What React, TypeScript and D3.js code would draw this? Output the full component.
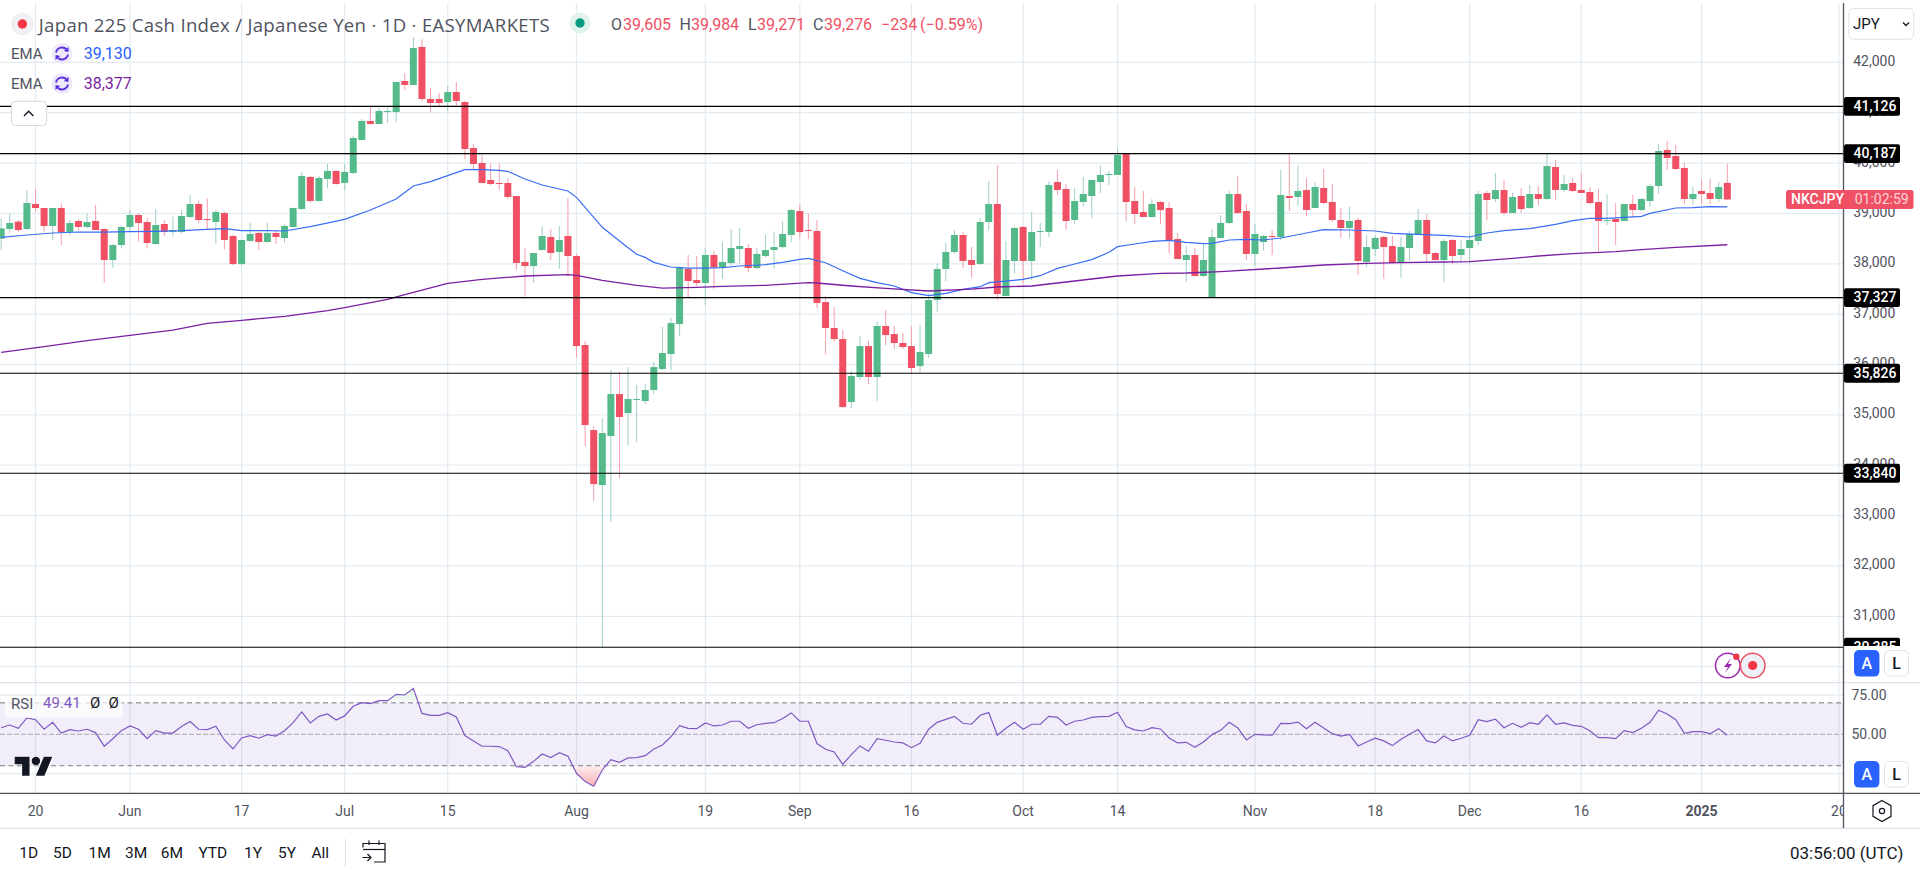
import React from "react";
import * as d3 from "d3";

const opens = [
38498,38690,38836,38690,39187,39107,38750,39107,38624,38849,
38730,38849,38690,38074,38372,38730,38968,38829,38392,38789,
38630,38630,38928,39187,38889,38829,39008,38551,37995,38452,
38611,38432,38611,38511,38730,39087,39723,39246,39683,39842,
39604,39802,40458,40835,40775,41020,41014,41629,41550,42305,
41272,41272,41212,41411,41212,40299,40001,39663,39604,39604,
39345,38035,37955,38273,38531,38233,38551,38154,36386,34698,
33606,34579,35413,35036,35301,35274,35493,35910,36208,36803,
37896,37677,37618,38174,37929,38015,38293,38313,37915,38154,
38273,38332,38571,39047,38670,38650,37240,36724,36505,35254,
35751,36366,35751,36764,36605,36426,36366,35969,36208,37280,
37896,38233,38571,38074,37995,38829,39187,37359,38055,38730,
38055,38630,38630,39623,39484,38869,39226,39345,39623,39763,
39763,40180,39246,39028,38928,39226,39107,38491,38074,38174,
37757,37340,38511,38809,39385,39047,38194,38432,38551,38531,
39345,39326,39465,39107,39504,39226,38869,38710,38869,38035,
38293,38531,38352,38015,38313,38571,38869,38213,38074,38472,
38174,38313,38452,39405,39286,39465,39008,39345,39107,39385,
39286,39921,39465,39604,39465,39425,39226,38849,38889,38849,
39187,39067,39246,39544,40259,40140,39902,39286,39445,39405,
39286,39605];

const highs = [
38902,38988,38869,39465,39484,39107,39107,39200,38869,38882,
39001,39167,38703,38392,38750,39067,39001,38902,39081,38869,
38935,39067,39365,39246,39299,39067,39034,38571,38485,38816,
38637,38816,38657,38789,39120,39822,39743,39743,39981,39862,
39981,40537,40875,41133,41100,41133,41610,41782,42497,42457,
41484,41384,41530,41610,41232,40378,40160,39981,39994,39696,
39345,38306,38220,38736,38690,38750,39299,38194,36466,34778,
34930,35890,35850,35949,35592,35612,36049,36750,36929,37942,
38174,38154,38313,38253,38432,38683,38710,38392,38313,38571,
38637,38849,39087,39187,38988,38869,37359,37141,36684,35870,
36565,36466,36850,37081,36764,36625,36750,36784,37412,38008,
38419,38670,38630,38332,38908,39643,39961,38452,38736,38750,
39028,38809,39637,39862,39584,39504,39723,39676,39941,39842,
40299,40193,39524,39445,39286,39246,39226,38611,38352,38313,
38392,38690,38968,39445,39743,39187,38789,38571,38670,39862,
40180,39941,39703,39623,39882,39584,39107,39127,38908,38571,
38571,38551,38551,38531,38650,39087,38988,38233,38491,38491,
38472,38591,39445,39445,39802,39663,39405,39504,39564,39544,
40180,40060,39763,39703,39802,39524,39484,39385,39206,39187,
39365,39306,39584,40378,40438,40358,40001,39524,39683,39683,
39623,39984];

const lows = [
38273,38604,38637,38670,39034,38637,38472,38372,38571,38670,
38703,38670,37624,37922,38306,38637,38439,38306,38372,38551,
38551,38604,38902,38803,38670,38392,38286,37975,37962,38439,
38273,38419,38392,38419,38723,39067,39213,39233,39498,39564,
39451,39782,40451,40762,40769,40795,40815,41451,41550,41219,
41014,41120,41034,41120,40080,39862,39597,39564,39465,39286,
37876,37346,37624,38260,38074,37902,37757,36135,34380,33288,
30382,32871,33745,34400,34460,35215,35413,35890,35890,36565,
37326,37558,37181,37505,37697,37975,38008,37836,37889,38127,
37896,38306,38432,38511,38491,37128,36208,36453,35135,35135,
35691,35612,35274,36386,36307,36307,35810,35850,36128,37042,
37657,38194,37915,37717,37975,38670,37280,37359,37810,37598,
37677,38332,38531,39365,38670,38789,39127,38908,39405,39564,
39763,38849,38789,38928,38922,38789,38213,38094,37637,37750,
37737,37320,38511,38789,38988,38074,37955,38253,38174,38472,
39047,39147,38948,39100,39187,38829,38511,38511,37777,37935,
38154,37704,38008,37717,38055,38571,38035,38068,37637,37995,
38035,37995,38372,38869,39226,38968,39008,39008,39087,39167,
39266,39266,39425,39425,39405,39187,38253,38770,38372,38849,
38928,39047,39127,39385,39862,39862,39187,39167,39187,39187,
39226,39271];

const closes = [
38703,38809,38670,39206,39107,38750,39107,38624,38809,38730,
38829,38670,38074,38372,38730,38968,38809,38412,38770,38630,
38670,38948,39187,38869,38869,39028,38472,37995,38472,38591,
38432,38611,38531,38750,39107,39743,39246,39703,39842,39584,
39822,40497,40835,40775,41034,41034,41610,41550,42285,41272,
41192,41192,41411,41232,40279,39981,39604,39584,39584,39326,
38015,37955,38213,38551,38213,38472,38154,36366,34798,33626,
34639,35413,34956,35314,35314,35493,35949,36227,36823,37929,
37657,37618,38174,37929,38035,38313,38352,37915,38194,38273,
38332,38591,39067,38630,38650,37220,36724,36505,35155,35771,
36366,35751,36764,36585,36426,36347,35930,36247,37280,37896,
38233,38571,38055,37975,38829,39187,37399,38074,38710,38055,
38630,38650,39564,39465,38849,39246,39385,39663,39763,39782,
40160,39226,38988,38928,39187,39067,38452,38094,38174,37757,
38074,38531,38809,39385,39008,38194,38591,38551,38531,39365,
39306,39445,39067,39524,39206,38869,38710,38849,38055,38332,
38511,38332,38015,38332,38591,38869,38194,38074,38452,38154,
38293,38472,39385,39266,39465,39008,39326,39087,39385,39286,
39941,39465,39584,39445,39405,39206,38849,38869,38829,39187,
39067,39286,39544,40239,40100,39882,39286,39385,39385,39286,
39524,39276];

const emaFastBars = [
0,3,6,9,12,15,18,21,24,26,28,31,33,36,40,43,46,48,50,52,54,56,58,59,61,63,66,67,70,73,74,
75,76,78,80,82,84,86,89,91,93,94,96,98,100,102,104,106,108,110,112,114,115,117,119,121,123,125,127,129,130,132,134,136,138,140,141,143,145,147,149,
152,154,157,160,162,165,168,171,173,175,178,181,183,185,187,189,191,192,195,197,199,201];
const emaFastValues = [
38525,38571,38611,38630,38630,38637,38644,38657,38683,38697,38657,38657,38650,38736,38882,39067,39286,39544,39630,39749,39868,39868,39855,39835,39683,39564,39445,39319,38723,38319,38187,
38127,38028,37935,37915,37915,37922,37955,37982,38028,38088,38108,38021,37862,37710,37624,37558,37426,37366,37412,37492,37545,37624,37657,37690,37763,37909,37995,38081,38227,38339,38392,38445,38465,38425,38399,38405,38472,38485,38472,38511,
38611,38677,38670,38650,38604,38584,38564,38531,38611,38657,38697,38783,38856,38902,38902,38922,38942,39001,39107,39114,39134,39130];

const emaSlowBars = [
0,5,10,15,20,24,28,33,38,40,45,47,52,56,61,66,67,70,74,
77,81,84,89,94,95,99,103,108,113,116,120,124,130,135,138,142,149,
154,159,163,168,171,176,179,183,188,191,195,201];
const emaSlowValues = [
36241,36353,36472,36578,36684,36817,36876,36956,37068,37128,37293,37386,37611,37690,37757,37783,37770,37671,37571,
37518,37532,37551,37571,37624,37618,37558,37512,37459,37498,37538,37558,37638,37757,37810,37816,37843,37916,
37975,38008,38021,38035,38041,38108,38154,38200,38240,38280,38326,38377];

const rsiValues = [
54.2,55.9,53.8,60.4,59.3,53.2,57.6,50.8,53.0,52.1,
53.2,51.1,42.4,47.2,52.3,55.3,53.2,47.2,52.3,50.8,
50.8,54.9,58.1,53.2,53.0,55.1,46.4,40.7,47.7,49.2,
47.5,49.8,48.9,52.3,57.4,64.2,57.2,61.4,62.9,59.1,
61.7,67.8,70.1,69.5,71.4,71.4,75.4,75.0,79.2,63.3,
62.1,62.1,63.8,61.0,49.2,45.8,42.4,42.4,42.2,39.6,
29.4,29.0,32.8,37.5,35.2,38.3,36.0,25.2,19.9,17.0,
27.3,33.9,32.2,35.0,35.2,36.4,40.7,43.2,48.5,55.5,
53.8,53.6,57.2,55.3,55.9,58.3,58.3,53.8,56.1,57.0,
57.4,60.0,63.6,58.3,58.3,44.1,40.5,38.8,30.9,37.1,
42.6,39.2,47.2,46.2,45.1,44.5,41.5,44.3,53.2,57.6,
59.5,61.4,57.0,56.4,62.1,63.8,49.4,53.8,57.6,53.2,
56.4,56.4,61.4,60.8,55.9,58.3,59.1,60.8,61.2,61.4,
64.0,54.9,52.8,52.1,54.2,53.4,47.7,44.5,44.9,41.7,
45.1,49.8,52.5,57.6,54.0,46.4,50.0,49.6,49.4,57.0,
56.8,57.8,53.6,57.6,54.0,50.4,48.9,50.0,42.6,45.1,
47.5,45.8,42.8,46.8,50.0,53.0,45.8,44.5,48.9,45.8,
47.5,49.4,59.3,58.1,59.7,54.2,57.0,54.4,57.4,56.4,
62.3,56.4,57.2,55.7,55.1,52.3,47.9,47.9,47.2,52.3,
51.1,53.8,57.6,65.3,62.9,59.3,50.6,51.7,51.7,50.4,
53.6,49.41];

const priceTicks = [42000,41000,40000,39000,38000,37000,36000,35000,34000,33000,32000,31000,30000];
const levels = [41126,40187,37327,35826,33840,30385];
const timeTickBars = [4,15,28,40,52,67,82,93,106,119,130,146,160,171,184,198,214];
const timeTickLabels = ["20","Jun","17","Jul","15","Aug","19","Sep","16","Oct","14","Nov","18","Dec","16","2025","20"];
const rsiGrid = [75,50,25];
const rsiGuides = [70,50,30];
const rangeButtons = ["1D","5D","1M","3M","6M","YTD","1Y","5Y","All"];
const rangeX = [19.2,53,88.6,125,160.8,198.4,244,278,311.4];

const FONT = "Roboto, 'Noto Sans', sans-serif";
const UP = "#55BA8A", DOWN = "#EF5064", UPW = "#9FCFC8", DOWNW = "#F59EA9";
const GRID = "#E3EBF2", AXIS = "#50535E", PALE = "#E0E3EB", TEXT = "#50535E", INK = "#131722";
const BLUE = "#3A6DF5", PURPLE = "#7B1FA2", RSI = "#7E57C2", RED = "#EF5064";
const AXIS_X = 1843.5;

const x = d3.scaleLinear().domain([0, 201]).range([1.15, 1727.3]);
const y = d3.scaleLinear().domain([42000, 31000]).range([62.3, 616.3]);
const yr = d3.scaleLinear().domain([75, 50]).range([695, 734.3]);
const fmt = d3.format(",");

const Refresh = ({ cx, cy }: { cx: number; cy: number }) => (
  <g transform={`translate(${cx},${cy})`}>
    <circle r={10.5} fill="#EDE9FB" />
    <path d="M-6 -1 A6.2 6.2 0 0 1 5 -3.5" fill="none" stroke="#5B2BE0" strokeWidth={1.8} />
    <path d="M6 1 A6.2 6.2 0 0 1 -5 3.5" fill="none" stroke="#5B2BE0" strokeWidth={1.8} />
    <path d="M6.6 -6.5 L6.4 -1.6 L1.8 -2.6 Z" fill="#5B2BE0" />
    <path d="M-6.6 6.5 L-6.4 1.6 L-1.8 2.6 Z" fill="#5B2BE0" />
  </g>
);

const AL = ({ top }: { top: number }) => (
  <g fontFamily={FONT}>
    <rect x={1854} y={top} width={25.4} height={26.6} rx={5} fill="#2962FF" />
    <text x={1866.7} y={top + 13.5} textAnchor="middle" dominantBaseline="central" fill="#fff" fontSize={16} fontWeight={500}>A</text>
    <rect x={1884.5} y={top + 0.5} width={24} height={25.6} rx={5} fill="#fff" stroke={PALE} />
    <text x={1896.5} y={top + 13.5} textAnchor="middle" dominantBaseline="central" fill={INK} fontSize={16} fontWeight={500}>L</text>
  </g>
);

export default function App() {
  const rsiLine = d3.line<number>().x((_, i) => x(i)).y((d) => yr(d));
  const rsiHigh = d3.area<number>().x((_, i) => x(i)).y0(yr(70)).y1((d) => yr(d));
  const rsiLow = d3.area<number>().x((_, i) => x(i)).y0(yr(30)).y1((d) => yr(d));
  const fast = d3.line<number>().x((d) => x(d)).y((_, i) => y(emaFastValues[i]));
  const slow = d3.line<number>().x((d) => x(d)).y((_, i) => y(emaSlowValues[i]));

  return (
    <svg width={1920} height={870} viewBox="0 0 1920 870" style={{ position: "absolute", left: 0, top: 0, background: "#fff" }}>
      <defs>
        <clipPath id="plot"><rect x={0} y={3} width={AXIS_X - 0.5} height={680} /></clipPath>
        <clipPath id="rsiPlot"><rect x={0} y={683} width={AXIS_X - 0.5} height={110} /></clipPath>
        <clipPath id="above70"><rect x={0} y={683} width={AXIS_X} height={yr(70) - 683} /></clipPath>
        <clipPath id="below30"><rect x={0} y={yr(30)} width={AXIS_X} height={793 - yr(30)} /></clipPath>
        <clipPath id="priceClip"><rect x={AXIS_X} y={3} width={80} height={643} /></clipPath>
        <clipPath id="timeClip"><rect x={0} y={794} width={AXIS_X - 0.5} height={34} /></clipPath>
        <linearGradient id="lowFill" gradientUnits="userSpaceOnUse" x1="0" y1={yr(30)} x2="0" y2={yr(17)}>
          <stop offset="0" stopColor="#FCEFF1" />
          <stop offset="1" stopColor="#F8AEB3" />
        </linearGradient>
        <linearGradient id="highFill" gradientUnits="userSpaceOnUse" x1="0" y1={yr(79)} x2="0" y2={yr(70)}>
          <stop offset="0" stopColor="#DDF1E0" />
          <stop offset="1" stopColor="#F6FAF6" />
        </linearGradient>
      </defs>

      {/* grid */}
      <g stroke={GRID} strokeWidth={1.25}>
        {timeTickBars.map((b) => (
          <line key={b} x1={x(b)} x2={x(b)} y1={3} y2={793} />
        ))}
        {priceTicks.map((p) => (
          <line key={p} x1={0} x2={AXIS_X} y1={y(p)} y2={y(p)} />
        ))}
        {rsiGrid.filter((v) => v !== 50).map((v) => (
          <line key={v} x1={0} x2={AXIS_X} y1={yr(v)} y2={yr(v)} />
        ))}
      </g>

      {/* candles */}
      <g clipPath="url(#plot)">
        {closes.map((c, i) => {
          const up = c >= opens[i];
          return (
            <line key={i} x1={x(i)} x2={x(i)} y1={y(highs[i])} y2={y(lows[i])} stroke={up ? UPW : DOWNW} strokeWidth={1} />
          );
        })}
        {closes.map((c, i) => {
          const o = opens[i];
          const up = c >= o;
          const top = y(Math.max(o, c));
          const h = Math.max(1, Math.abs(y(o) - y(c)));
          return <rect key={i} x={x(i) - 3.5} y={top} width={7} height={h} fill={up ? UP : DOWN} />;
        })}
        <path d={fast(emaFastBars) ?? ""} fill="none" stroke={BLUE} strokeWidth={1.2} />
        <path d={slow(emaSlowBars) ?? ""} fill="none" stroke={PURPLE} strokeWidth={1.3} />
        {levels.map((l) => (
          <line key={l} x1={0} x2={AXIS_X} y1={y(l)} y2={y(l)} stroke="#000" strokeWidth={1.2} />
        ))}
      </g>

      {/* separators */}
      <line x1={0} x2={1920} y1={682.6} y2={682.6} stroke={PALE} strokeWidth={1.3} />
      <line x1={0} x2={1920} y1={793.3} y2={793.3} stroke={AXIS} strokeWidth={1.3} />
      <line x1={0} x2={1920} y1={828.3} y2={828.3} stroke={PALE} strokeWidth={1.3} />
      <line x1={AXIS_X} x2={AXIS_X} y1={3} y2={828} stroke={AXIS} strokeWidth={1.3} />

      {/* RSI pane */}
      <g clipPath="url(#rsiPlot)">
        <rect x={0} y={yr(70)} width={AXIS_X} height={yr(30) - yr(70)} fill="#7E57C2" fillOpacity={0.1} />
        <path d={rsiHigh(rsiValues) ?? ""} fill="url(#highFill)" clipPath="url(#above70)" />
        <path d={rsiLow(rsiValues) ?? ""} fill="url(#lowFill)" clipPath="url(#below30)" />
        {rsiGuides.map((v) => (
          <line key={v} x1={0} x2={AXIS_X} y1={yr(v)} y2={yr(v)} stroke="#787B86" strokeWidth={1} strokeDasharray={v === 50 ? "5 2" : "5 3.5"} opacity={v === 50 ? 0.6 : 1} />
        ))}
        <path d={rsiLine(rsiValues) ?? ""} fill="none" stroke={RSI} strokeWidth={1.2} />
      </g>

      {/* TradingView logo */}
      <g transform="translate(14.7,752.5) scale(1.06)">
        <path d="M14 22H7V11H0V4h14v18zM28 22h-8l7.5-18h8L28 22z" fill={INK} stroke="#fff" strokeWidth={1.5} paintOrder="stroke" />
        <circle cx={20} cy={8} r={4} fill={INK} stroke="#fff" strokeWidth={1} paintOrder="stroke" />
      </g>

      {/* RSI legend */}
      <rect x={5} y={696.7} width={117.4} height={21} fill="#fff" fillOpacity={0.7} rx={2} />
      <g fontFamily={FONT} fontSize={15} dominantBaseline="central">
        <text x={11} y={703.5} fill={TEXT}>RSI</text>
        <text x={43} y={703} fill={RSI}>49.41</text>
        <text x={90} y={703} fill={INK} fontSize={15}>Ø</text>
        <text x={108.5} y={703} fill={INK} fontSize={15}>Ø</text>
      </g>

      {/* Main legend */}
      <g fontFamily={FONT} dominantBaseline="central">
        <circle cx={22.4} cy={24} r={10.5} fill="#F0F0F5" stroke="#E3E5EC" strokeWidth={0.8} />
        <circle cx={22.4} cy={24} r={4.7} fill="#F23645" />
        <text x={38.8} y={24} fontSize={18.6} letterSpacing={0.3} fontFamily="'Open Sans', sans-serif" fill={TEXT}>Japan 225 Cash Index / Japanese Yen · 1D · EASYMARKETS</text>
        <circle cx={580} cy={23} r={10.5} fill="#E1F3EF" />
        <circle cx={580} cy={23} r={4.7} fill="#089981" />
        <g fontSize={16}>
          <text x={611} y={24} fill={TEXT}>O</text>
          <text x={623} y={24} fill={RED}>39,605</text>
          <text x={679.6} y={24} fill={TEXT}>H</text>
          <text x={691} y={24} fill={RED}>39,984</text>
          <text x={748} y={24} fill={TEXT}>L</text>
          <text x={757} y={24} fill={RED}>39,271</text>
          <text x={813} y={24} fill={TEXT}>C</text>
          <text x={824} y={24} fill={RED}>39,276</text>
          <text x={881} y={24} fill={RED}>−234</text>
          <text x={920} y={24} fill={RED}>(−0.59%)</text>
        </g>
        <text x={11} y={53.5} fontSize={15} fill={TEXT}>EMA</text>
        <text x={83.7} y={53.5} fontSize={16} fill="#2962FF">{fmt(39130)}</text>
        <text x={11} y={83.5} fontSize={15} fill={TEXT}>EMA</text>
        <text x={83.7} y={83.5} fontSize={16} fill={PURPLE}>{fmt(38377)}</text>
      </g>
      <Refresh cx={62} cy={53.5} />
      <Refresh cx={62} cy={83.5} />
      <rect x={11.5} y={101.3} width={35} height={24.2} rx={4} fill="#fff" stroke="#D6D8DF" />
      <path d="M24 116 L28.7 111.2 L33.4 116" fill="none" stroke={INK} strokeWidth={1.4} />

      {/* Price axis */}
      <g fontFamily={FONT} fontSize={14} fill={TEXT} textAnchor="middle" dominantBaseline="central">
        {priceTicks.filter((p) => p !== 30000).map((p) => (
          <text key={p} x={1874.3} y={y(p) - 1.5}>{fmt(p)}</text>
        ))}
        {rsiGrid.filter((v) => v !== 25).map((v) => (
          <text key={v} x={1869} y={yr(v) - 0.5}>{v.toFixed(2)}</text>
        ))}
      </g>
      <g fontFamily={FONT} fontSize={14} clipPath="url(#priceClip)" dominantBaseline="central" textAnchor="middle">
        {levels.map((l) => (
          <g key={l}>
            <rect x={1844} y={y(l) - 9.4} width={56} height={18.8} rx={2} fill="#000" />
            <text x={1875} y={y(l) - 0.5} fill="#fff" fontWeight={500}>{fmt(l)}</text>
          </g>
        ))}
      </g>

      {/* Last price label */}
      <g fontFamily={FONT} fontSize={14} dominantBaseline="central">
        <rect x={1786} y={y(closes[201]) - 9.5} width={127.5} height={19} rx={2.5} fill={RED} />
        <text x={1791} y={y(closes[201])} fill="#fff" fontWeight={500}>NKCJPY</text>
        <text x={1854.7} y={y(closes[201])} fill="#FBD3D8">01:02:59</text>
      </g>

      {/* JPY button */}
      <rect x={1848.8} y={8.5} width={65} height={30.8} rx={5} fill="#fff" stroke={PALE} />
      <text x={1853} y={24} fontFamily={FONT} fontSize={15} fill={INK} dominantBaseline="central">JPY</text>
      <path d="M1903 22.5 L1906 25.5 L1909 22.5" fill="none" stroke={INK} strokeWidth={1.3} />

      {/* A / L buttons */}
      <AL top={650} />
      <AL top={761} />

      {/* Alert / event badges */}
      <circle cx={1727.8} cy={665.5} r={12.3} fill="#fff" stroke="#9C27B0" strokeWidth={1.5} />
      <path d="M1731 658 L1724 667 L1728 667 L1725 673 L1732 664 L1728 664 Z" fill="#9C27B0" />
      <circle cx={1736.3} cy={656.7} r={3.2} fill="#F23645" />
      <circle cx={1752.7} cy={665.5} r={12.3} fill="#EEF0F8" stroke="#EF5064" strokeWidth={1.5} />
      <circle cx={1752.7} cy={665.5} r={4.6} fill="#F23645" />

      {/* Time axis */}
      <g fontFamily={FONT} fontSize={14} fill={TEXT} textAnchor="middle" dominantBaseline="central" clipPath="url(#timeClip)">
        {timeTickBars.map((b, i) => (
          <text key={i} x={x(b)} y={810.7} fontWeight={timeTickLabels[i] === "2025" ? 700 : 400}>{timeTickLabels[i]}</text>
        ))}
      </g>
      <path d="M1882 800.5 L1891 805.7 L1891 816.3 L1882 821.5 L1873 816.3 L1873 805.7 Z" fill="none" stroke={INK} strokeWidth={1.2} />
      <circle cx={1882} cy={811} r={2.6} fill="none" stroke={INK} strokeWidth={1.2} />

      {/* Bottom bar */}
      <g fontFamily={FONT} fontSize={15.5} fill={INK} dominantBaseline="central">
        {rangeButtons.map((t, i) => (
          <text key={t} x={rangeX[i]} y={852.7}>{t}</text>
        ))}
        <text x={1790} y={852.7} fontSize={17}>03:56:00 (UTC)</text>
      </g>
      <line x1={345.3} x2={345.3} y1={839} y2={866.7} stroke={PALE} strokeWidth={1.2} />
      <g fill="none" stroke={INK} strokeWidth={1.2}>
        <path d="M363 847.5 V843.5 H385 V862 H374" />
        <path d="M363 849.5 H385" />
        <path d="M369 840.5 V845 M379 840.5 V845" />
        <path d="M362.5 857.5 H371 M367.5 854 L371 857.5 L367.5 861" />
      </g>
    </svg>
  );
}
